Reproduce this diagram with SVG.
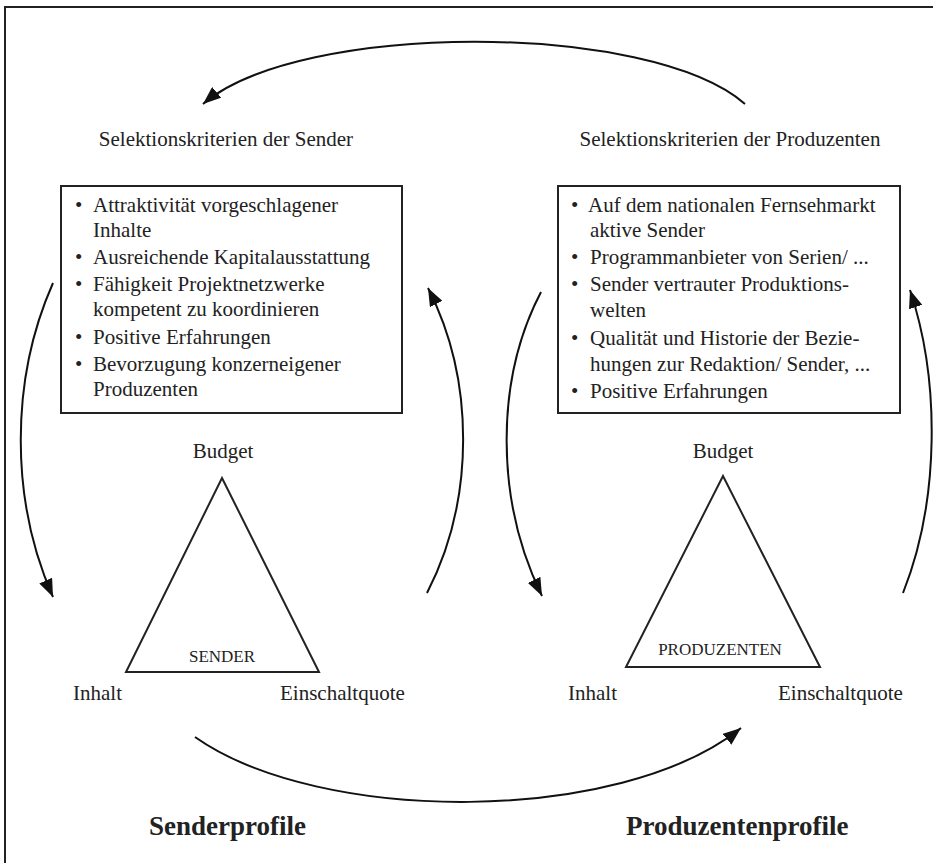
<svg xmlns="http://www.w3.org/2000/svg" width="933" height="863" viewBox="0 0 933 863">
<defs>
<style>
text{font-family:"Liberation Serif","Times New Roman",serif;fill:#222;}
.t{font-size:21px;}
.s{font-size:17px;}
.b{font-size:27px;font-weight:bold;}
.box{fill:#fff;stroke:#222;stroke-width:2;}
.tri{fill:none;stroke:#222;stroke-width:2;stroke-linejoin:miter;}
.arc{fill:none;stroke:#111;stroke-width:2;marker-end:url(#ah);}
</style>
<marker id="ah" markerUnits="userSpaceOnUse" markerWidth="20" markerHeight="14" refX="18" refY="7" orient="auto">
<path d="M0,0 L18,7 L0,14 Z" fill="#111"/>
</marker>
</defs>
<rect x="5" y="7" width="940" height="870" fill="#fff" stroke="#222" stroke-width="2"/>

<g id="connectors">
<path class="arc" d="M745,104 C650,21 300,21 203,104"/>
<path class="arc" d="M53,283 C10,380 10,500 53,597"/>
<path class="arc" d="M427,593 C475,500 475,380 428,288"/>
<path class="arc" d="M541,292 C495,380 495,500 542,596"/>
<path class="arc" d="M903,593 C940,500 940,380 910,290"/>
<path class="arc" d="M195,737 C320,825 620,825 741,728"/>
</g>

<g id="title-sender"><text class="t" x="226" y="146" text-anchor="middle">Selektionskriterien der Sender</text></g>
<g id="title-produzenten"><text class="t" x="730" y="146" text-anchor="middle">Selektionskriterien der Produzenten</text></g>

<g id="box-sender">
<rect class="box" x="61" y="186" width="341" height="227"/>
<text class="t" x="75" y="212">•</text><text class="t" x="93" y="212">Attraktivität vorgeschlagener</text>
<text class="t" x="93" y="237">Inhalte</text>
<text class="t" x="75" y="264">•</text><text class="t" x="93" y="264">Ausreichende Kapitalausstattung</text>
<text class="t" x="75" y="291">•</text><text class="t" x="93" y="291">Fähigkeit Projektnetzwerke</text>
<text class="t" x="93" y="316">kompetent zu koordinieren</text>
<text class="t" x="75" y="344">•</text><text class="t" x="93" y="344">Positive Erfahrungen</text>
<text class="t" x="75" y="371">•</text><text class="t" x="93" y="371">Bevorzugung konzerneigener</text>
<text class="t" x="93" y="396">Produzenten</text>
</g>

<g id="box-produzenten">
<rect class="box" x="558" y="186" width="342" height="227"/>
<text class="t" x="571" y="212">•</text><text class="t" x="588" y="212">Auf dem nationalen Fernsehmarkt</text>
<text class="t" x="590" y="237">aktive Sender</text>
<text class="t" x="571" y="264">•</text><text class="t" x="590" y="264">Programmanbieter von Serien/ ...</text>
<text class="t" x="571" y="291">•</text><text class="t" x="590" y="291">Sender vertrauter Produktions-</text>
<text class="t" x="590" y="317">welten</text>
<text class="t" x="571" y="345">•</text><text class="t" x="590" y="345">Qualität und Historie der Bezie-</text>
<text class="t" x="590" y="371">hungen zur Redaktion/ Sender, ...</text>
<text class="t" x="571" y="398">•</text><text class="t" x="590" y="398">Positive Erfahrungen</text>
</g>

<g id="triangle-sender">
<text class="t" x="223" y="458" text-anchor="middle">Budget</text>
<polygon class="tri" points="222,478 319,672 126,672"/>
<text class="s" x="222" y="662" text-anchor="middle">SENDER</text>
<text class="t" x="73" y="700">Inhalt</text>
<text class="t" x="280" y="700">Einschaltquote</text>
</g>

<g id="triangle-produzenten">
<text class="t" x="723" y="458" text-anchor="middle">Budget</text>
<polygon class="tri" points="723,476 820,667 626,667"/>
<text class="s" x="720" y="655" text-anchor="middle">PRODUZENTEN</text>
<text class="t" x="568" y="700">Inhalt</text>
<text class="t" x="778" y="700">Einschaltquote</text>
</g>

<g id="profile-sender"><text class="b" x="149" y="835">Senderprofile</text></g>
<g id="profile-produzenten"><text class="b" x="626" y="835">Produzentenprofile</text></g>
</svg>
